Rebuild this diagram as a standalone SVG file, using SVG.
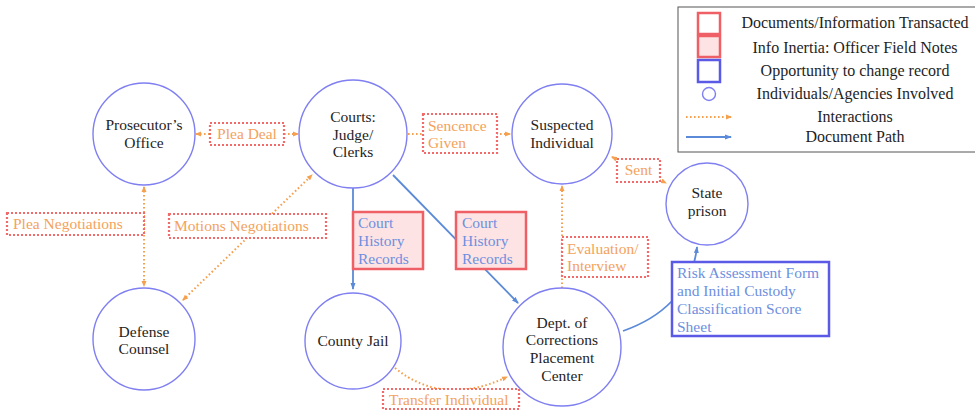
<svg xmlns="http://www.w3.org/2000/svg" width="975" height="411" viewBox="0 0 975 411">
<defs>
<style>
text{font-family:"Liberation Serif","DejaVu Serif",serif;font-size:15.5px}
.node circle{fill:#fff;stroke:#7f7ff2;stroke-width:1.4}
.node text{fill:#1e1e1e;text-anchor:middle}
.lbl rect{fill:#fff;stroke:#f26a6a;stroke-width:2.2;stroke-dasharray:2 2}
.lbl text{fill:#f4a25c}
.doc rect{fill:#fde3e3;stroke:#ef5f66;stroke-width:2.5}
.doc text,.risk text{fill:#6e8fe0}
.risk rect{fill:#fff;stroke:#5a5ae6;stroke-width:2.5}
.dot{fill:none;stroke:#f5a04f;stroke-width:2;stroke-dasharray:1.6 2.4}
.blue{fill:none;stroke:#5b8ad8;stroke-width:1.8}
.leg text{font-size:16px;fill:#1e1e1e;text-anchor:middle}
</style>
<marker id="ao" viewBox="0 0 6 6" refX="5" refY="3" markerWidth="6" markerHeight="6" markerUnits="userSpaceOnUse" orient="auto-start-reverse"><path d="M0,0.5 L6,3 L0,5.5 z" fill="#f5a04f"/></marker>
<marker id="ab" viewBox="0 0 7 6" refX="6" refY="3" markerWidth="7" markerHeight="6" markerUnits="userSpaceOnUse" orient="auto"><path d="M0,0.5 L7,3 L0,5.5 z" fill="#5b8ad8"/></marker>
</defs>
<rect width="975" height="411" fill="#fff"/>

<g id="connectors">
<line class="dot" x1="196" y1="134" x2="298" y2="134" marker-start="url(#ao)" marker-end="url(#ao)"/>
<line class="dot" x1="408" y1="134" x2="510" y2="134" marker-end="url(#ao)"/>
<line class="dot" x1="612" y1="157" x2="666" y2="183" marker-start="url(#ao)" marker-end="url(#ao)"/>
<line class="dot" x1="562" y1="288" x2="562" y2="186" marker-end="url(#ao)"/>
<line class="dot" x1="144" y1="187" x2="144" y2="286" marker-start="url(#ao)" marker-end="url(#ao)"/>
<line class="dot" x1="183" y1="300" x2="312" y2="175" marker-start="url(#ao)" marker-end="url(#ao)"/>
<path class="dot" d="M395,368 Q443,407 507,377" marker-end="url(#ao)"/>
<line class="blue" x1="353" y1="188" x2="353" y2="289" marker-end="url(#ab)"/>
<line class="blue" x1="393" y1="175" x2="518" y2="303" marker-end="url(#ab)"/>
<path class="blue" d="M623,331 C660,318 692,292 697,247" marker-end="url(#ab)"/>
</g>

<g id="label-plea-deal" class="lbl"><rect x="210" y="123" width="74" height="22"/><text x="247" y="139" text-anchor="middle">Plea Deal</text></g>
<g id="label-sentence" class="lbl"><rect x="423" y="114" width="74" height="39"/><text x="428" y="131">Sencence</text><text x="428" y="148">Given</text></g>
<g id="label-sent" class="lbl"><rect x="617" y="159" width="43" height="23"/><text x="638.5" y="175" text-anchor="middle">Sent</text></g>
<g id="label-eval" class="lbl"><rect x="562" y="237" width="86" height="40"/><text x="567" y="254">Evaluation/</text><text x="567" y="271">Interview</text></g>
<g id="label-plea-neg" class="lbl"><rect x="7" y="213" width="137" height="22"/><text x="13" y="229">Plea Negotiations</text></g>
<g id="label-motions" class="lbl"><rect x="169" y="214" width="157" height="24"/><text x="174" y="231">Motions Negotiations</text></g>
<g id="label-transfer" class="lbl"><rect x="383" y="389" width="136" height="20"/><text x="389" y="405">Transfer Individual</text></g>

<g id="doc-court-jail" class="doc"><rect x="353" y="212" width="70" height="57"/><text x="358" y="228">Court</text><text x="358" y="246">History</text><text x="358" y="264">Records</text></g>
<g id="doc-court-doc" class="doc"><rect x="456" y="212" width="70" height="57"/><text x="462" y="228">Court</text><text x="462" y="246">History</text><text x="462" y="264">Records</text></g>
<g id="doc-risk" class="risk"><rect x="672" y="262" width="157" height="74"/><text x="677" y="278">Risk Assessment Form</text><text x="677" y="296">and Initial Custody</text><text x="677" y="314">Classification Score</text><text x="677" y="332">Sheet</text></g>

<g id="node-prosecutor" class="node"><circle cx="144" cy="134" r="51"/><text x="144" y="130">Prosecutor’s</text><text x="144" y="148">Office</text></g>
<g id="node-courts" class="node"><circle cx="353" cy="134" r="54"/><text x="353" y="122">Courts:</text><text x="353" y="140">Judge/</text><text x="353" y="157">Clerks</text></g>
<g id="node-suspected" class="node"><circle cx="562" cy="134" r="50"/><text x="562" y="130">Suspected</text><text x="562" y="148">Individual</text></g>
<g id="node-prison" class="node"><circle cx="707" cy="204" r="41"/><text x="707" y="198">State</text><text x="707" y="216">prison</text></g>
<g id="node-defense" class="node"><circle cx="144" cy="339" r="51"/><text x="144" y="337">Defense</text><text x="144" y="354">Counsel</text></g>
<g id="node-jail" class="node"><circle cx="353" cy="341" r="48"/><text x="353" y="346">County Jail</text></g>
<g id="node-doc" class="node"><circle cx="562" cy="347" r="59"/><text x="562" y="328">Dept. of</text><text x="562" y="345">Corrections</text><text x="562" y="363">Placement</text><text x="562" y="381">Center</text></g>

<g id="legend" class="leg">
<rect x="678" y="7" width="310" height="145" fill="#fff" stroke="#555" stroke-width="1"/>
<rect x="698" y="13" width="22" height="21" fill="#fff" stroke="#ef5f66" stroke-width="2.5"/>
<rect x="698" y="36" width="22" height="21" fill="#fde3e3" stroke="#ef5f66" stroke-width="2.5"/>
<rect x="698" y="60" width="22" height="22" fill="#fff" stroke="#5a5ae6" stroke-width="2.5"/>
<circle cx="709" cy="94" r="6.5" fill="#fff" stroke="#7f7ff2" stroke-width="1.4"/>
<line class="dot" x1="686" y1="117" x2="731" y2="117" marker-end="url(#ao)"/>
<line class="blue" x1="686" y1="137" x2="731" y2="137" marker-end="url(#ab)"/>
<text x="855" y="28">Documents/Information Transacted</text>
<text x="855" y="53">Info Inertia: Officer Field Notes</text>
<text x="855" y="76">Opportunity to change record</text>
<text x="855" y="99">Individuals/Agencies Involved</text>
<text x="855" y="122">Interactions</text>
<text x="855" y="142">Document Path</text>
</g>
</svg>
